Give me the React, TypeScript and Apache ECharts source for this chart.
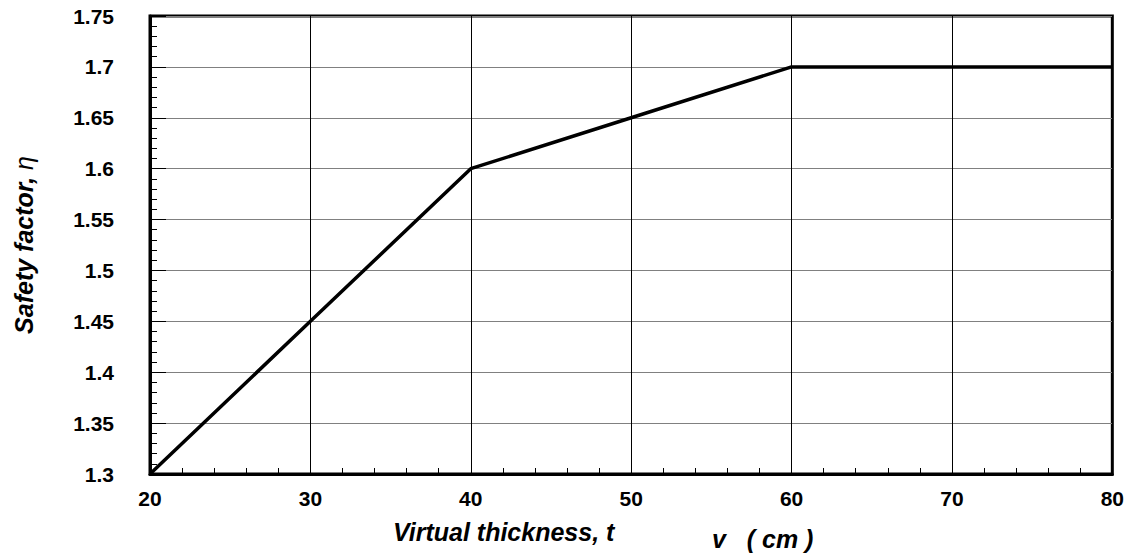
import React, { useEffect, useRef } from "react";
import * as echarts from "echarts";

const thickness = [20, 30, 40, 50, 60, 80];
const safetyFactor = [1.3, 1.45, 1.6, 1.65, 1.7, 1.7];
const xTitle = "Virtual thickness, t";
const xTitleUnit = "v   ( cm )";
const yTitleMain = "Safety factor, ";
const yTitleSymbol = "η";

const FONT = "'Liberation Sans', Arial, sans-serif";

export default function App() {
  const ref = useRef<HTMLDivElement>(null);
  useEffect(() => {
    if (!ref.current) return;
    const chart = echarts.init(ref.current, null, { renderer: "svg" });
    chart.setOption({
      animation: false,
      backgroundColor: "#ffffff",
      grid: {
        left: 150,
        right: 13,
        top: 16,
        bottom: 82,
        show: true,
        borderColor: "#000",
        borderWidth: 3,
        backgroundColor: "transparent",
      },
      xAxis: {
        type: "value",
        min: 20,
        max: 80,
        interval: 10,
        axisLine: { show: true, onZero: false, lineStyle: { color: "#000", width: 3 } },
        axisTick: { show: true, inside: true, length: 16, lineStyle: { color: "#000", width: 1 } },
        minorTick: { show: true, splitNumber: 5, length: 6, lineStyle: { color: "#000", width: 1 } },
        splitLine: { show: true, lineStyle: { color: "#000", width: 1 } },
        axisLabel: { color: "#000", fontFamily: FONT, fontWeight: "bold", fontSize: 21, margin: 14 },
      },
      yAxis: {
        type: "value",
        min: 1.3,
        max: 1.75,
        interval: 0.05,
        axisLine: { show: true, onZero: false, lineStyle: { color: "#000", width: 3 } },
        axisTick: { show: true, inside: true, length: 16, lineStyle: { color: "#000", width: 1 } },
        minorTick: { show: true, splitNumber: 5, length: 7, lineStyle: { color: "#000", width: 1 } },
        splitLine: { show: true, lineStyle: { color: "#808080", width: 1 } },
        axisLabel: {
          color: "#000",
          fontFamily: FONT,
          fontWeight: "bold",
          fontSize: 21,
          margin: 36,
          formatter: (v: number) => String(+v.toFixed(2)),
        },
      },
      graphic: [
        {
          type: "text",
          left: 393,
          top: 519,
          style: { text: xTitle, font: `italic bold 25px ${FONT}`, fill: "#000" },
        },
        {
          type: "text",
          left: 712,
          top: 526,
          style: { text: xTitleUnit, font: `italic bold 25px ${FONT}`, fill: "#000" },
        },
        {
          type: "text",
          x: 24,
          y: 245,
          rotation: Math.PI / 2,
          style: {
            text: `{a|${yTitleMain}}{b|${yTitleSymbol}}`,
            fill: "#000",
            align: "center",
            verticalAlign: "middle",
            rich: {
              a: { fontFamily: FONT, fontStyle: "italic", fontWeight: "bold", fontSize: 25, fill: "#000" },
              b: { fontFamily: FONT, fontStyle: "italic", fontWeight: "normal", fontSize: 25, fill: "#000" },
            },
          },
        },
      ],
      series: [
        {
          type: "line",
          data: thickness.map((x, i) => [x, safetyFactor[i]]),
          symbol: "none",
          lineStyle: { color: "#000", width: 3.5 },
          z: 5,
        },
      ],
    });
    return () => chart.dispose();
  }, []);
  return (
    <div
      ref={ref}
      style={{ position: "fixed", left: 0, top: 0, width: 1127, height: 556, background: "#fff" }}
    />
  );
}
